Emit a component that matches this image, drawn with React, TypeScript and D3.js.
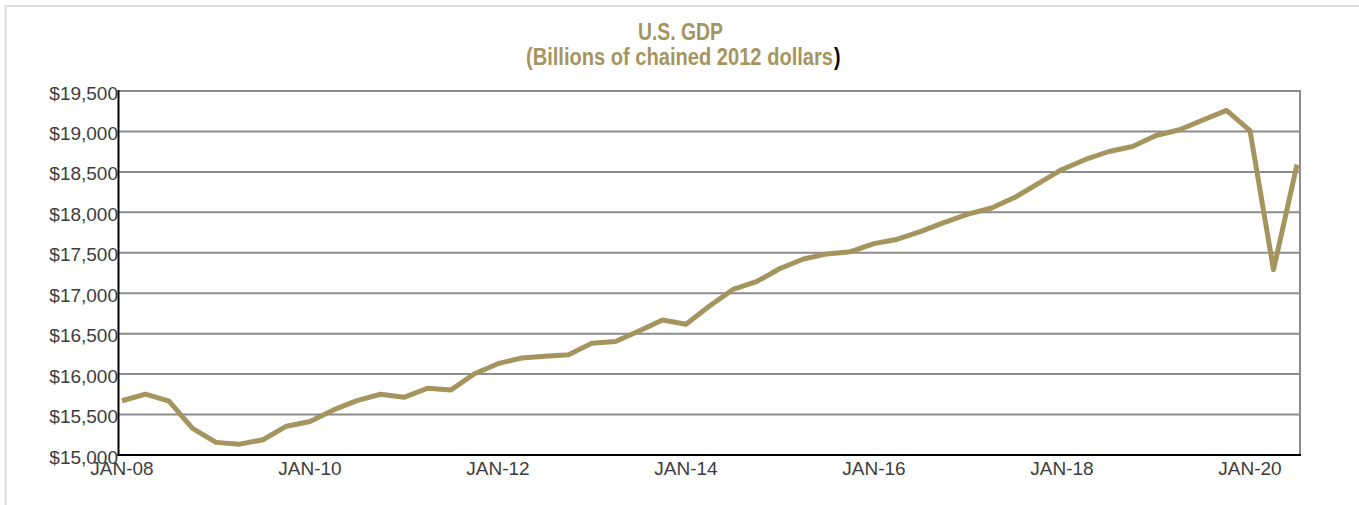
import React from "react";
import * as d3 from "d3";

// Quarterly real GDP, billions of chained 2012 dollars, Q1 2008 – Q3 2020
const quarters: string[] = [
  "2008Q1","2008Q2","2008Q3","2008Q4",
  "2009Q1","2009Q2","2009Q3","2009Q4",
  "2010Q1","2010Q2","2010Q3","2010Q4",
  "2011Q1","2011Q2","2011Q3","2011Q4",
  "2012Q1","2012Q2","2012Q3","2012Q4",
  "2013Q1","2013Q2","2013Q3","2013Q4",
  "2014Q1","2014Q2","2014Q3","2014Q4",
  "2015Q1","2015Q2","2015Q3","2015Q4",
  "2016Q1","2016Q2","2016Q3","2016Q4",
  "2017Q1","2017Q2","2017Q3","2017Q4",
  "2018Q1","2018Q2","2018Q3","2018Q4",
  "2019Q1","2019Q2","2019Q3","2019Q4",
  "2020Q1","2020Q2","2020Q3",
];

const gdp: number[] = [
  15671, 15752, 15667, 15328,
  15156, 15134, 15189, 15356,
  15415, 15557, 15672, 15751,
  15713, 15825, 15805, 16004,
  16129, 16199, 16221, 16239,
  16383, 16403, 16532, 16670,
  16617, 16841, 17047, 17143,
  17306, 17423, 17486, 17514,
  17613, 17668, 17764, 17876,
  17977, 18054, 18186, 18359,
  18530, 18654, 18752, 18814,
  18950, 19021, 19142, 19260,
  19011, 17290, 18590,
];

const yTicks: number[] = [15000, 15500, 16000, 16500, 17000, 17500, 18000, 18500, 19000, 19500];
const xTickIndex: number[] = [0, 8, 16, 24, 32, 40, 48];
const xTickLabels: string[] = ["JAN-08", "JAN-10", "JAN-12", "JAN-14", "JAN-16", "JAN-18", "JAN-20"];

const titleLine1 = "U.S. GDP";
const titleLine2 = "(Billions of chained 2012 dollars";
const titleClose = ")";

const W = 1359;
const H = 505;
const plotL = 118.5;
const plotR = 1300;
const plotT = 91;
const plotB = 455;

const GOLD = "#a4955e";
const GRID = "#8c8c8c";
const TEXT = "#3d3d3d";
const TITLE_FONT = "'Liberation Sans Narrow', 'Arial Narrow', 'Liberation Sans', Arial, sans-serif";

export default function App() {
  const x = d3.scaleLinear().domain([0, gdp.length - 1]).range([122, 1297]);
  const y = d3.scaleLinear().domain([15000, 19500]).range([plotB, plotT]);
  const line = d3
    .line<number>()
    .x((_, i) => x(i))
    .y((d) => y(d));
  const fmt = (v: number) => "$" + d3.format(",")(v);

  return (
    <svg
      width={W}
      height={H}
      style={{ position: "absolute", left: 0, top: 0, background: "#fff" }}
      fontFamily="'Liberation Sans', Arial, sans-serif"
    >
      {/* container border */}
      <line x1={5.5} y1={6} x2={W} y2={6} stroke="#d6e0e4" strokeWidth={2} />
      <line x1={5.5} y1={5} x2={5.5} y2={H} stroke="#d6e0e4" strokeWidth={2} />

      {/* title */}
      <text
        x={680.5}
        y={40}
        textAnchor="middle"
        fontFamily={TITLE_FONT}
        fontWeight="bold"
        fontSize={23}
        fill={GOLD}
        textLength={85}
        lengthAdjust="spacingAndGlyphs"
      >
        {titleLine1}
      </text>
      <text
        x={526}
        y={65}
        textAnchor="start"
        fontFamily={TITLE_FONT}
        fontWeight="bold"
        fontSize={23}
        fill={GOLD}
        textLength={307}
        lengthAdjust="spacingAndGlyphs"
      >
        {titleLine2}
      </text>
      <text
        x={834}
        y={65}
        textAnchor="start"
        fontFamily={TITLE_FONT}
        fontWeight="bold"
        fontSize={23}
        fill="#000"
        textLength={6.5}
        lengthAdjust="spacingAndGlyphs"
      >
        {titleClose}
      </text>

      {/* gridlines */}
      {yTicks.map((t) => (
        <line
          key={"g" + t}
          x1={plotL}
          x2={plotR}
          y1={y(t)}
          y2={y(t)}
          stroke={GRID}
          strokeWidth={2}
        />
      ))}
      {/* right border */}
      <line x1={plotR} x2={plotR} y1={plotT - 1} y2={plotB} stroke={GRID} strokeWidth={2} />

      {/* y labels */}
      {yTicks.map((t) => (
        <text
          key={"yl" + t}
          x={118}
          y={y(t) + 8.5}
          textAnchor="end"
          fontSize={19}
          fill={TEXT}
        >
          {fmt(t)}
        </text>
      ))}

      {/* data line */}
      <path
        d={line(gdp) || ""}
        fill="none"
        stroke={GOLD}
        strokeWidth={5}
        strokeLinejoin="round"
      />

      {/* axes */}
      <line x1={plotL} x2={plotL} y1={plotT - 1} y2={plotB + 1} stroke="#000" strokeWidth={2} />
      <line x1={plotL - 1} x2={plotR + 1} y1={plotB} y2={plotB} stroke="#000" strokeWidth={2} />

      {/* x labels */}
      {xTickIndex.map((idx, i) => (
        <text
          key={"xl" + idx}
          x={x(idx)}
          y={475}
          textAnchor="middle"
          fontSize={19}
          fill={TEXT}
        >
          {xTickLabels[i]}
        </text>
      ))}
    </svg>
  );
}
